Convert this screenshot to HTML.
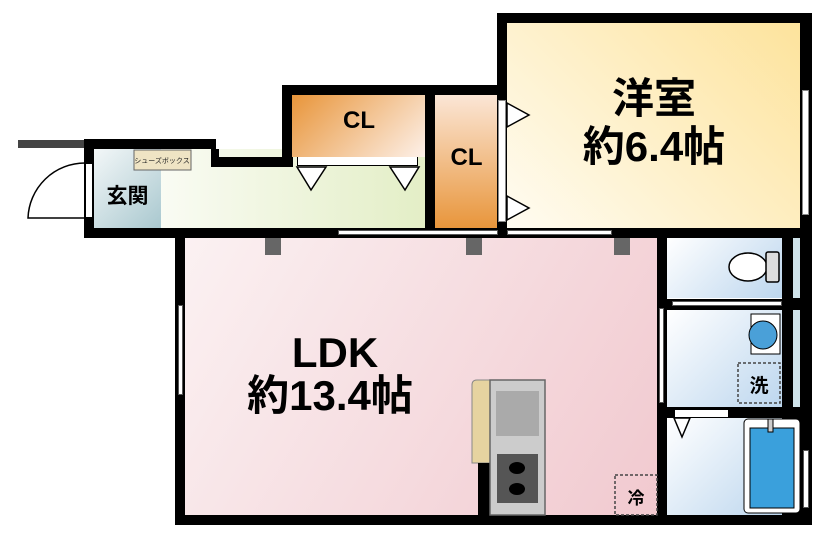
<!DOCTYPE html>
<html><head><meta charset="utf-8"><style>
body{margin:0;width:829px;height:537px;background:#fff;position:relative;overflow:hidden;font-family:"Liberation Sans","Noto Sans CJK JP",sans-serif}
div{position:absolute;box-sizing:border-box}
.b{background:#000}
.t{font-weight:bold;color:#000;text-align:center;white-space:nowrap}
</style></head><body>
<div style="left:507px;top:23px;width:294px;height:206px;background:linear-gradient(45deg,#fffcf2,#fde39c)"></div>
<div style="left:185px;top:238px;width:473px;height:278px;background:linear-gradient(120deg,#fbf1f2,#f1c9cf)"></div>
<div style="left:94px;top:149px;width:332px;height:80px;background:linear-gradient(90deg,#fff,#e3eec6)"></div>
<div style="left:94px;top:149px;width:67px;height:80px;background:linear-gradient(135deg,#f3f7f8,#a9c8cf)"></div>
<div style="left:292px;top:95px;width:134px;height:62px;background:linear-gradient(135deg,#e8953a,#fdf1ea)"></div>
<div style="left:435px;top:95px;width:63px;height:134px;background:linear-gradient(0deg,#e8953a,#fbe6d6)"></div>
<div style="left:667px;top:238px;width:116px;height:60px;background:linear-gradient(135deg,#fff,#bcd6ee)"></div>
<div style="left:667px;top:310px;width:116px;height:98px;background:linear-gradient(135deg,#fff,#bcd6ee)"></div>
<div style="left:667px;top:418px;width:116px;height:98px;background:linear-gradient(135deg,#fff,#bcd6ee)"></div>
<div style="left:18px;top:140px;width:68px;height:8px;background:#444"></div>
<div class="b" style="left:84px;top:139px;width:132px;height:10px"></div>
<div class="b" style="left:211px;top:149px;width:8px;height:18px"></div>
<div class="b" style="left:213px;top:157px;width:80px;height:10px"></div>
<div class="b" style="left:282px;top:85px;width:10px;height:82px"></div>
<div class="b" style="left:282px;top:85px;width:225px;height:10px"></div>
<div class="b" style="left:425px;top:85px;width:10px;height:150px"></div>
<div class="b" style="left:497px;top:13px;width:10px;height:225px"></div>
<div class="b" style="left:497px;top:13px;width:315px;height:10px"></div>
<div class="b" style="left:800px;top:13px;width:12px;height:225px"></div>
<div class="b" style="left:84px;top:139px;width:10px;height:99px"></div>
<div class="b" style="left:84px;top:228px;width:728px;height:10px"></div>
<div class="b" style="left:175px;top:228px;width:10px;height:297px"></div>
<div class="b" style="left:175px;top:515px;width:637px;height:10px"></div>
<div class="b" style="left:657px;top:228px;width:10px;height:297px"></div>
<div class="b" style="left:782px;top:228px;width:30px;height:297px"></div>
<div style="left:793px;top:238px;width:7px;height:60px;background:#cfe3ea"></div>
<div style="left:793px;top:310px;width:7px;height:98px;background:#cfe3ea"></div>
<div class="b" style="left:657px;top:299px;width:155px;height:11px"></div>
<div class="b" style="left:657px;top:407px;width:155px;height:11px"></div>
<div style="left:85px;top:163px;width:8px;height:55px;background:#fff;border:1px solid #000"></div>
<div style="left:297px;top:157px;width:121px;height:9px;background:#fff;border:1px solid #000;border-top:none"></div>
<div style="left:498px;top:100px;width:8px;height:122px;background:#fff;border:1px solid #888"></div>
<div style="left:802px;top:90px;width:7px;height:125px;background:#fff;border:1px solid #888"></div>
<div style="left:338px;top:230px;width:160px;height:5px;background:#fff;border:1px solid #555"></div>
<div style="left:507px;top:230px;width:105px;height:5px;background:#fff;border:1px solid #555"></div>
<div style="left:672px;top:301px;width:110px;height:5px;background:#fff;border:1px solid #555"></div>
<div style="left:659px;top:308px;width:5px;height:95px;background:#fff;border:1px solid #555"></div>
<div style="left:178px;top:305px;width:5px;height:90px;background:#fff;border:1px solid #555"></div>
<div style="left:674px;top:409px;width:55px;height:9px;background:#fff;border:1px solid #000"></div>
<div style="left:803px;top:450px;width:6px;height:58px;background:#fff;border:1px solid #555"></div>
<div style="left:265px;top:238px;width:16px;height:17px;background:#666"></div>
<div style="left:466px;top:238px;width:16px;height:17px;background:#666"></div>
<div style="left:614px;top:238px;width:16px;height:17px;background:#666"></div>
<svg style="position:absolute;left:0;top:0" width="829" height="537">
<path d="M85 218 L28 218 A57 57 0 0 1 85 163" fill="none" stroke="#000" stroke-width="1.5"/>
<g fill="#fff" stroke="#000" stroke-width="1.5">
<polygon points="297,167 326,167 311,190"/><polygon points="390,167 419,167 405,190"/>
<polygon points="507,103 507,127 529,115"/><polygon points="507,196 507,220 529,208"/>
<polygon points="674,418 690,418 682,437"/>
</g>
<rect x="134" y="150" width="57" height="20" fill="#efe4c4" stroke="#666"/>
<text x="162" y="163" font-size="7" text-anchor="middle" font-family="Noto Sans CJK JP" fill="#222">シューズボックス</text>
<ellipse cx="748" cy="267" rx="19" ry="14" fill="#fff" stroke="#000" stroke-width="1.5"/>
<rect x="766" y="252" width="13" height="30" rx="2" fill="#ddd" stroke="#000" stroke-width="1.5"/>
<rect x="751" y="314" width="29" height="40" fill="#fff" stroke="#000"/>
<circle cx="763" cy="335" r="14" fill="#4aa0d8" stroke="#000"/>
<rect x="738" y="363" width="42" height="40" fill="none" stroke="#444" stroke-width="1.5" stroke-dasharray="3,2"/>
<rect x="744" y="419" width="56" height="94" rx="4" fill="#fff" stroke="#000"/>
<rect x="750" y="428" width="44" height="80" fill="#3aa0dc" stroke="#000"/>
<rect x="768" y="419" width="5" height="13" fill="#ccc" stroke="#000"/>
<rect x="615" y="475" width="42" height="40" fill="none" stroke="#444" stroke-width="1.5" stroke-dasharray="3,2"/>
<path d="M472 385 Q472 380 477 380 L490 380 L490 463 L472 463 Z" fill="#e6d3a0" stroke="#888"/>
<rect x="478" y="463" width="12" height="52" fill="#000"/>
<rect x="490" y="380" width="55" height="135" fill="#ccc" stroke="#666" stroke-width="1.5"/>
<rect x="496" y="391" width="43" height="45" fill="#aaa"/>
<rect x="497" y="454" width="41" height="49" fill="#555"/>
<ellipse cx="517" cy="468" rx="8" ry="6" fill="#000"/>
<ellipse cx="517" cy="489" rx="8" ry="6" fill="#000"/>
</svg>
<div class="t" style="left:507px;top:76px;width:294px;font-size:42px;line-height:46px">洋室</div>
<div class="t" style="left:507px;top:124px;width:294px;font-size:42px;line-height:46px">約6.4帖</div>
<div class="t" style="left:185px;top:330px;width:300px;font-size:42px;line-height:46px">LDK</div>
<div class="t" style="left:180px;top:373px;width:300px;font-size:42px;line-height:46px">約13.4帖</div>
<div class="t" style="left:292px;top:107px;width:134px;font-size:24px">CL</div>
<div class="t" style="left:435px;top:144px;width:63px;font-size:24px">CL</div>
<div class="t" style="left:94px;top:180px;width:67px;font-size:21px">玄関</div>
<div class="t" style="left:738px;top:371px;width:42px;font-size:19px">洗</div>
<div class="t" style="left:615px;top:484px;width:42px;font-size:17px">冷</div>
</body></html>
